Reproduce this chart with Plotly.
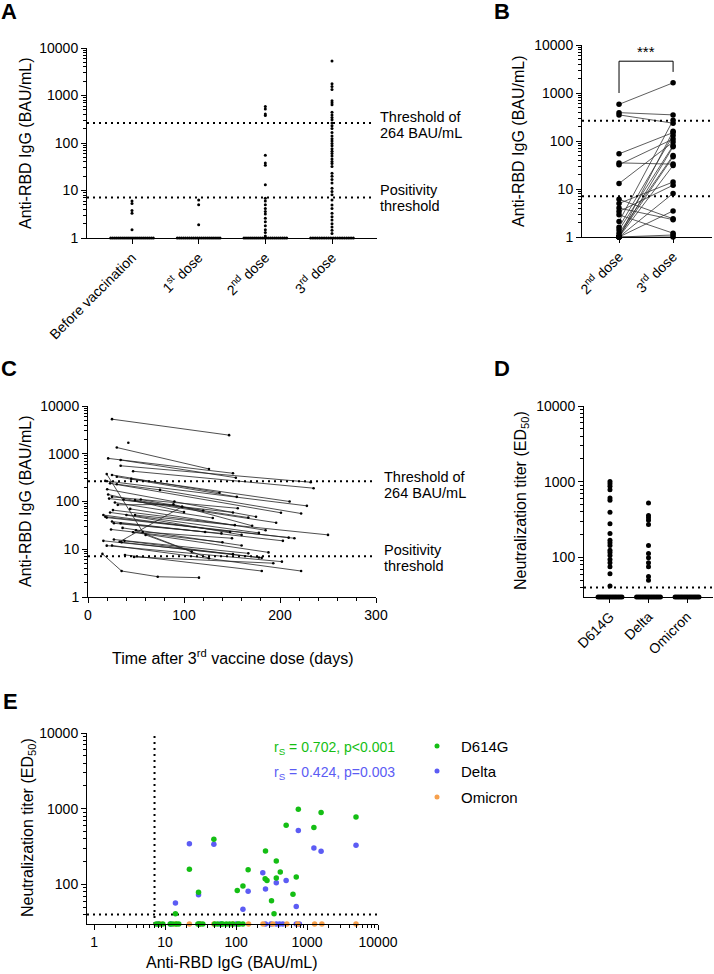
import plotly.graph_objects as go
import math

W, H = 714, 974
FONT = "Liberation Sans, Arial, Helvetica, sans-serif"
GREEN = "#14be14"
BLUE = "#5c5cf4"
ORANGE = "#f7a04c"

# ---------------- DATA ----------------
# Panel A: anti-RBD IgG by time point (BAU/mL); 1 = below detection
a_categories = ["Before vaccination", "1<sup>st</sup> dose", "2<sup>nd</sup> dose", "3<sup>rd</sup> dose"]
a_before = [6.0, 5.3, 3.8, 3.3, 1.5] + [1.0] * 22
a_dose1 = [6.3, 5.0, 1.9] + [1.0] * 22
a_dose2 = [590, 520, 410, 380, 55, 38, 34, 13.2, 6.9, 6.0, 5.0, 4.2, 3.6, 3.2, 2.6, 2.2,
           1.8, 1.5, 1.3, 1.1] + [1.0] * 22
a_dose3 = [5300, 1760, 1550, 1340, 780, 700, 635, 445, 390, 345, 310, 264, 230, 203, 166,
           140, 123, 110, 98, 87, 76, 67, 60, 53, 46, 41, 37, 32, 23, 20, 17, 14.4, 11.2,
           9.5, 8.1, 6.3, 4.95, 4.2, 3.3, 2.8, 2.4, 2.0, 1.7, 1.46, 1.24] + [1.0] * 20
a_threshold_high = 264
a_threshold_pos = 7.1

# Panel B: paired 2nd vs 3rd dose
b_categories = ["2<sup>nd</sup> dose", "3<sup>rd</sup> dose"]
b_dose2 = [580, 390, 350, 54, 35, 32, 13, 6.1, 5.0, 4.0, 3.4, 2.9, 2.1, 1.6, 1.4, 1.2,
           1.05, 1.0, 1.0, 1.0, 1.0, 1.0, 1.0, 1.0]
b_dose3 = [1630, 350, 235, 150, 33, 110, 95, 2.4, 14, 2.3, 12, 1.2, 270, 130, 80, 50,
           47, 1.1, 8.1, 31, 3.5, 76, 1.0, 160]

# Panel C: per-patient kinetics (days after 3rd dose, BAU/mL)
c_days = [
    [25, 147], [42], [30, 126], [21, 151], [34, 154], [34, 232], [47, 235], [25, 137],
    [30, 155], [18, 228], [23, 201], [30, 75, 222], [19.5, 57, 150], [25, 156], [22, 151],
    [37, 196], [49, 167], [31, 89, 171], [26, 153], [23, 178], [16, 148], [33, 98],
    [40, 160], [49, 250], [18, 215], [19.5, 209], [25, 203], [27, 139], [34, 122],
    [47, 188], [27, 167], [38, 178], [16, 151], [19.5, 202], [25, 222], [15, 35, 72.6, 115.6],
    [38.5, 181], [48, 193], [35, 181], [60, 126], [50, 108], [21, 100], [28, 130],
    [44, 185], [36, 160], [55, 120], [20, 90, 175], [45, 210], [24, 140],
]
c_vals = [
    [5300, 2450], [1700], [1350, 480], [800, 390], [740, 315], [560, 253], [430, 190], [360, 153],
    [330, 125], [270, 81], [240, 58], [230, 175, 56], [375, 23, 17], [125, 72], [115, 59],
    [110, 36], [107, 46], [85, 87, 31], [66, 32], [59, 22], [52, 23], [14.4, 78],
    [52, 20], [52, 20], [48, 17], [46, 17.5], [38, 15], [35, 21.5], [35, 23],
    [22.7, 8.6], [16, 8.2], [15, 6.7], [15, 7.9], [11.9, 5.5], [12, 3.5], [8, 3.5, 2.66, 2.54],
    [7.6, 3.5], [6.9, 5.1], [14, 6.6], [20, 6.5], [25, 8.9], [140, 60], [95, 45],
    [70, 25], [28, 12], [110, 65], [180, 100, 48], [300, 100], [26, 14],
]

# Panel D: neutralization titers (ED50); 30 = below detection
d_categories = ["D614G", "Delta", "Omicron"]
d_d614g = [1009, 940, 870, 785, 610, 567, 394, 278, 207, 169, 156, 144, 124, 116, 106, 94,
           85, 75, 61, 42] + [30] * 14
d_delta = [525, 357, 333, 309, 272, 144, 113, 99, 85, 75, 56, 50] + [30] * 14
d_omicron = [30] * 14
d_threshold = 40

# Panel E: neutralization vs anti-RBD IgG
e_d614g_x = [22, 48.7, 29.6, 14, 104, 125, 148, 257, 273, 260, 369, 369, 420, 316, 343, 508,
             634, 705, 754, 1250, 1578, 4900,
             7.5, 8.2, 9.3, 11.8, 12.9, 14.4, 15.6, 29, 31, 34, 50, 55, 62, 65, 73, 81, 90,
             106, 112, 125]
e_d614g_y = [158, 395, 79, 41, 83, 95, 156, 119, 113, 277, 204, 122, 146, 61, 41, 605,
             74, 125, 985, 564, 892, 780,
             30, 30, 30, 30, 30, 30, 30, 30, 30, 30, 30, 30, 30, 30, 30, 30, 30,
             30, 30, 30]
e_delta_x = [22, 48.7, 14, 29.6, 125, 148, 238, 260, 369, 508, 705, 754, 1250, 1578, 4900,
             8.0, 12, 30, 60, 100, 260, 310, 369, 410, 456, 705, 780]
e_delta_y = [345, 338, 57, 73, 47, 81, 143, 87, 105, 113, 51, 514, 303, 274, 330,
             30, 30, 30, 30, 30, 30, 30, 30, 30, 30, 30, 30]
e_omicron_x = [8.5, 14, 22, 31, 48.7, 90, 150, 240, 330, 520, 740, 1280, 1620, 4900]
e_omicron_y = [30] * 14
e_stats = ["r<sub>S</sub> = 0.702, p&lt;0.001", "r<sub>S</sub> = 0.424, p=0.003"]
e_series = ["D614G", "Delta", "Omicron"]

# ---------------- helpers ----------------
def xdom(x0, x1):
    return [x0 / W, x1 / W]

def ydom(top, bottom):
    return [1 - bottom / H, 1 - top / H]

def px(x):
    return x / W

def py(y):
    return 1 - y / H

def strip_x(values, center, floor, half):
    n_floor = sum(1 for v in values if v == floor)
    xs, k = [], 0
    for v in values:
        if v == floor and n_floor > 1:
            xs.append(center - half + 2 * half * k / (n_floor - 1))
            k += 1
        else:
            xs.append(center)
    return xs

def log_minor(lo_exp, hi_exp, start=None):
    vals = []
    for e in range(lo_exp, hi_exp):
        for m in range(2, 10):
            v = m * 10 ** e
            if start is None or v >= start:
                vals.append(v)
    return vals

tickfont = dict(family=FONT, size=14, color="black")
base_axis = dict(showline=True, linecolor="black", linewidth=1, ticks="outside",
                 ticklen=5, tickwidth=1, tickcolor="black", showgrid=False,
                 zeroline=False, tickfont=tickfont, mirror=False, automargin=False)

def minor_cfg(vals):
    return dict(tickmode="array", tickvals=vals, ticks="outside", ticklen=3,
                tickwidth=1, tickcolor="black", showgrid=False)

fig = go.Figure()
dot_line = dict(color="black", width=2, dash="2px,4px")

# ---------------- Panel A ----------------
a_xr = [-0.675, 3.675]
for i, vals in enumerate([a_before, a_dose1, a_dose2, a_dose3]):
    fig.add_trace(go.Scatter(x=strip_x(vals, i, 1.0, 0.32), y=vals, mode="markers",
                             marker=dict(size=3, color="black"), cliponaxis=False,
                             xaxis="x", yaxis="y", hoverinfo="skip"))
for thr in [a_threshold_high, a_threshold_pos]:
    fig.add_trace(go.Scatter(x=[a_xr[0], 3.6], y=[thr, thr], mode="lines", line=dot_line,
                             xaxis="x", yaxis="y", hoverinfo="skip"))

# ---------------- Panel B ----------------
b_xr = [-0.685, 1.72]
bx, by = [], []
for v2, v3 in zip(b_dose2, b_dose3):
    bx += [0, 1, None]
    by += [v2, v3, None]
fig.add_trace(go.Scatter(x=bx, y=by, mode="lines", line=dict(color="#333333", width=0.8),
                         xaxis="x2", yaxis="y2", hoverinfo="skip"))
fig.add_trace(go.Scatter(x=[0] * len(b_dose2) + [1] * len(b_dose3), y=b_dose2 + b_dose3,
                         mode="markers", marker=dict(size=5.5, color="black"), cliponaxis=False,
                         xaxis="x2", yaxis="y2", hoverinfo="skip"))
for thr in [a_threshold_high, a_threshold_pos]:
    fig.add_trace(go.Scatter(x=[b_xr[0], b_xr[1]], y=[thr, thr], mode="lines", line=dot_line,
                             xaxis="x2", yaxis="y2", hoverinfo="skip", cliponaxis=False))
# significance bracket
fig.add_trace(go.Scatter(x=[0, 0, 1, 1], y=[1000, 4600, 4600, 2750], mode="lines",
                         line=dict(color="black", width=1), xaxis="x2", yaxis="y2",
                         hoverinfo="skip"))

# ---------------- Panel C ----------------
cx, cy = [], []
for dd, vv in zip(c_days, c_vals):
    cx += dd + [None]
    cy += vv + [None]
fig.add_trace(go.Scatter(x=cx, y=cy, mode="lines+markers",
                         line=dict(color="#222222", width=0.8),
                         marker=dict(size=2.6, color="black"),
                         xaxis="x3", yaxis="y3", hoverinfo="skip"))
for thr in [a_threshold_high, a_threshold_pos]:
    fig.add_trace(go.Scatter(x=[0, 296], y=[thr, thr], mode="lines", line=dot_line,
                             xaxis="x3", yaxis="y3", hoverinfo="skip"))

# ---------------- Panel D ----------------
d_xr = [-0.675, 2.675]
for i, vals in enumerate([d_d614g, d_delta, d_omicron]):
    fig.add_trace(go.Scatter(x=strip_x(vals, i, 30, 0.31), y=vals, mode="markers",
                             marker=dict(size=5, color="black"), cliponaxis=False,
                             xaxis="x4", yaxis="y4", hoverinfo="skip"))
fig.add_trace(go.Scatter(x=[d_xr[0], d_xr[1]], y=[d_threshold, d_threshold], mode="lines",
                         line=dot_line, xaxis="x4", yaxis="y4", hoverinfo="skip",
                         cliponaxis=False))

# ---------------- Panel E ----------------
e_xr = [-0.1, 4.0]
fig.add_trace(go.Scatter(x=[10 ** e_xr[0], 10 ** 3.99], y=[d_threshold, d_threshold],
                         mode="lines", line=dot_line, xaxis="x5", yaxis="y5", hoverinfo="skip"))
fig.add_trace(go.Scatter(x=[a_threshold_pos, a_threshold_pos], y=[30, 10000],
                         mode="lines", line=dot_line, xaxis="x5", yaxis="y5", hoverinfo="skip"))
for xs, ys, col in [(e_delta_x, e_delta_y, BLUE), (e_omicron_x, e_omicron_y, ORANGE),
                    (e_d614g_x, e_d614g_y, GREEN)]:
    fig.add_trace(go.Scatter(x=xs, y=ys, mode="markers", marker=dict(size=5.5, color=col),
                             cliponaxis=False, xaxis="x5", yaxis="y5", hoverinfo="skip"))

# ---------------- Layout ----------------
log_ticks = [1, 10, 100, 1000, 10000]
log_text = ["1", "10", "100", "1000", "10000"]

layout = dict(width=W, height=H, margin=dict(l=0, r=0, t=0, b=0, pad=0, autoexpand=False),
              paper_bgcolor="white", plot_bgcolor="white", showlegend=False,
              font=dict(family=FONT, color="black"))

layout["xaxis"] = dict(base_axis, domain=xdom(87, 377), anchor="y", range=a_xr,
                       tickmode="array", tickvals=[0, 1, 2, 3], ticktext=a_categories,
                       tickangle=-45)
layout["yaxis"] = dict(base_axis, domain=ydom(48, 238), anchor="x", type="log", range=[0, 4],
                       tickmode="array", tickvals=log_ticks, ticktext=log_text,
                       minor=minor_cfg(log_minor(0, 4)))
layout["xaxis2"] = dict(base_axis, domain=xdom(582, 712), anchor="y2", range=b_xr,
                        tickmode="array", tickvals=[0, 1], ticktext=b_categories, tickangle=-45)
layout["yaxis2"] = dict(base_axis, domain=ydom(45, 237), anchor="x2", type="log", range=[0, 4],
                        tickmode="array", tickvals=log_ticks, ticktext=log_text,
                        minor=minor_cfg(log_minor(0, 4)))
layout["xaxis3"] = dict(base_axis, domain=xdom(88, 376), anchor="y3", range=[0, 300],
                        tickmode="array", tickvals=[0, 100, 200, 300],
                        minor=dict(dtick=20, ticks="outside", ticklen=3, tickwidth=1,
                                   tickcolor="black", showgrid=False))
layout["yaxis3"] = dict(base_axis, domain=ydom(406, 597), anchor="x3", type="log", range=[0, 4],
                        tickmode="array", tickvals=log_ticks, ticktext=log_text,
                        minor=minor_cfg(log_minor(0, 4)))
layout["xaxis4"] = dict(base_axis, domain=xdom(584, 713), anchor="y4", range=d_xr,
                        tickmode="array", tickvals=[0, 1, 2], ticktext=d_categories,
                        tickangle=-45)
layout["yaxis4"] = dict(base_axis, domain=ydom(406, 597), anchor="x4", type="log",
                        range=[math.log10(30), 4], tickmode="array",
                        tickvals=[100, 1000, 10000], ticktext=["100", "1000", "10000"],
                        minor=minor_cfg(log_minor(1, 4, start=40)))
layout["xaxis5"] = dict(base_axis, domain=xdom(87, 378), anchor="y5", type="log", range=e_xr,
                        tickmode="array", tickvals=log_ticks, ticktext=log_text,
                        minor=minor_cfg(log_minor(0, 4)))
layout["yaxis5"] = dict(base_axis, domain=ydom(733, 924), anchor="x5", type="log",
                        range=[math.log10(30), 4], tickmode="array",
                        tickvals=[100, 1000, 10000], ticktext=["100", "1000", "10000"],
                        minor=minor_cfg(log_minor(1, 4, start=40)))

ann = []
def text(x, y, s, size=14, color="black", angle=0, xanchor="center", bold=False):
    ann.append(dict(x=px(x), y=py(y), xref="paper", yref="paper", text=("<b>%s</b>" % s) if bold else s,
                    showarrow=False, xanchor=xanchor, yanchor="middle", textangle=angle,
                    font=dict(family=FONT, size=size, color=color)))

# panel letters
text(9, 12, "A", size=22, bold=True)
text(502, 12, "B", size=22, bold=True)
text(9, 369, "C", size=22, bold=True)
text(502, 369, "D", size=22, bold=True)
text(10, 701, "E", size=22, bold=True)

# axis titles
text(26, 143, "Anti-RBD IgG (BAU/mL)", size=16, angle=-90)
text(518, 141, "Anti-RBD IgG (BAU/mL)", size=16, angle=-90)
text(25, 501, "Anti-RBD IgG (BAU/mL)", size=16, angle=-90)
text(232, 657, "Time after 3<sup>rd</sup> vaccine dose (days)", size=16)
text(521, 501, "Neutralization titer (ED<sub>50</sub>)", size=16, angle=-90)
text(28, 828, "Neutralization titer (ED<sub>50</sub>)", size=16, angle=-90)
text(232, 962, "Anti-RBD IgG (BAU/mL)", size=16)

# threshold labels
for (x0, y1, y2, y3, y4) in [(378, 117, 133, 190, 206), (382, 477, 493, 550, 566)]:
    text(x0, y1, "Threshold of", size=14.5, xanchor="left")
    text(x0, y2, "264 BAU/mL", size=14.5, xanchor="left")
    text(x0, y3, "Positivity", size=14.5, xanchor="left")
    text(x0, y4, "threshold", size=14.5, xanchor="left")

# significance
text(646, 51, "***", size=15)

# correlation stats
text(272, 748, e_stats[0], size=14, color=GREEN, xanchor="left")
text(272, 773, e_stats[1], size=14, color=BLUE, xanchor="left")

# legend
shapes = []
for (name, col, yy) in zip(e_series, [GREEN, BLUE, ORANGE], [746, 771, 797]):
    shapes.append(dict(type="circle", xref="paper", yref="paper",
                       x0=px(434.5), x1=px(439.5), y0=py(yy + 2.5), y1=py(yy - 2.5),
                       fillcolor=col, line=dict(width=0)))
    text(459, yy, name, size=15, xanchor="left")

layout["annotations"] = ann
layout["shapes"] = shapes
fig.update_layout(**layout)
fig.write_html("out.html", config={"displayModeBar": False, "staticPlot": True},
               post_script="document.body.style.margin='0px';document.body.style.overflow='hidden';")
